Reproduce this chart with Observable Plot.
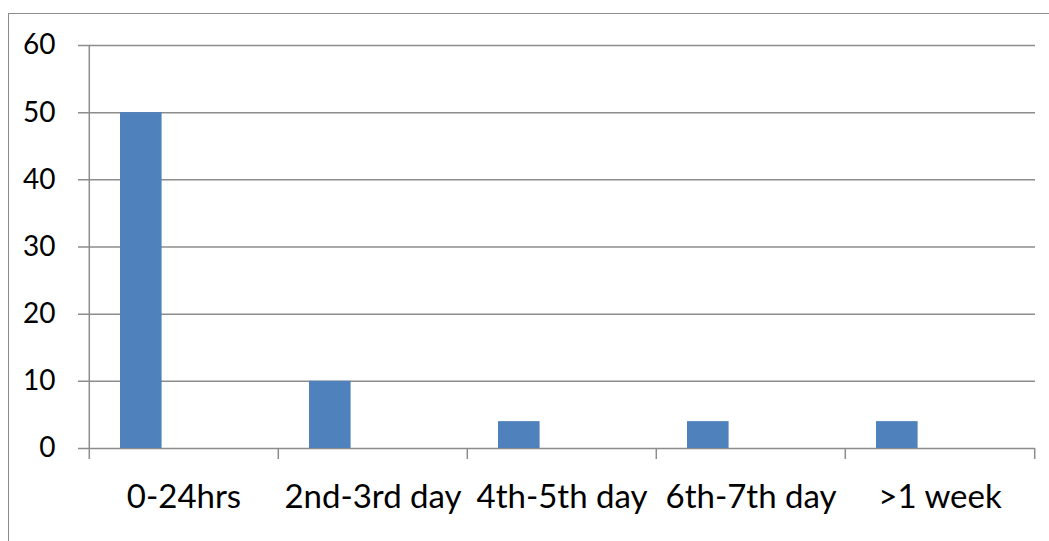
<!DOCTYPE html>
<html>
<head>
<meta charset="utf-8">
<script src="https://cdn.jsdelivr.net/npm/d3@7"></script>
<script src="https://cdn.jsdelivr.net/npm/@observablehq/plot@0.6"></script>
<style>
  html, body { margin: 0; padding: 0; background: #fff; }
  #wrap { position: relative; width: 1049px; height: 541px; overflow: hidden; }
  #frame { position: absolute; left: 8px; top: 13px; width: 1100px; height: 600px; border: 1.5px solid #8c8c8c; box-sizing: border-box; }
  #chart { position: absolute; left: 0; top: 0; }
</style>
</head>
<body>
<div id="wrap"><div id="frame"></div><div id="chart"></div></div>
<script>
const categories = ["0-24hrs", "2nd-3rd day", "4th-5th day", "6th-7th day", ">1 week"];
const values = [50, 10, 4, 4, 4];
const yTicks = [0, 10, 20, 30, 40, 50, 60];

const data = categories.map((c, i) => ({category: c, value: values[i]}));

const W = 1049, H = 541;
const mL = 88, mR = 14, mT = 45, mB = 93;
const bw = (W - mL - mR) / categories.length;
const gray = "#8c8c8c";
const font = "Lato, 'Open Sans', sans-serif";

const chart = Plot.plot({
  width: W,
  height: H,
  marginLeft: mL,
  marginRight: mR,
  marginTop: mT,
  marginBottom: mB,
  style: {background: "transparent", fontFamily: font, color: "#000"},
  x: {type: "band", domain: categories, padding: 0, label: null},
  y: {domain: [0, 60], label: null},
  marks: [
    Plot.ruleY(yTicks, {y: d => d, stroke: gray, strokeWidth: 1.5, insetLeft: -10}),
    Plot.ruleX([categories[0]], {x: d => d, dx: -bw / 2, y1: 0, y2: 60, stroke: gray, strokeWidth: 1.5}),
    Plot.barY(data, {x: "category", y: "value", fill: "#4f81bd", insetLeft: 31, insetRight: bw - 73}),
    Plot.ruleX(categories, {x: d => d, dx: -bw / 2, y1: 0, y2: 0, insetBottom: -11, stroke: gray, strokeWidth: 1.5}),
    Plot.ruleX([categories[categories.length - 1]], {x: d => d, dx: bw / 2, y1: 0, y2: 0, insetBottom: -11, stroke: gray, strokeWidth: 1.5}),
    Plot.axisY({ticks: yTicks, tickSize: 0, tickPadding: 33, fontSize: 28, fill: "#000", tickFormat: d => String(d)}),
    Plot.axisX({tickSize: 0, tickPadding: 36, fontSize: 33, fill: "#000"})
  ]
});
document.getElementById("chart").appendChild(chart);
</script>
</body>
</html>
